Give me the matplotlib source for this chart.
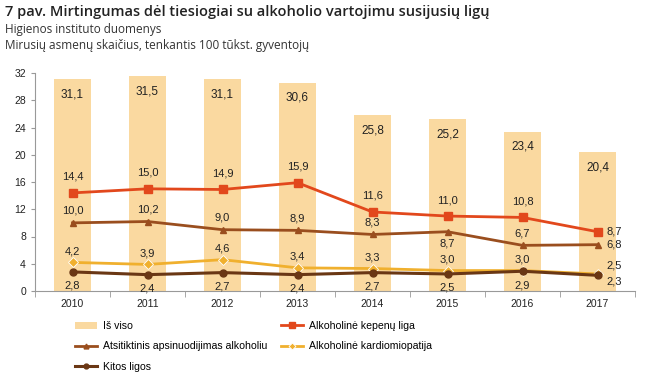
import matplotlib.pyplot as plt
import numpy as np

years = ['2010', '2011', '2012', '2013', '2014', '2015', '2016', '2017']
total = [31.1, 31.5, 31.1, 30.6, 25.8, 25.2, 23.4, 20.4]
liver = [14.4, 15.0, 14.9, 15.9, 11.6, 11.0, 10.8, 8.7]
poison = [10.0, 10.2, 9.0, 8.9, 8.3, 8.7, 6.7, 6.8]
cardio = [4.2, 3.9, 4.6, 3.4, 3.3, 3.0, 3.0, 2.5]
other = [2.8, 2.4, 2.7, 2.4, 2.7, 2.5, 2.9, 2.3]

c_bar = '#FAD9A0'
c_liver = '#E2481C'
c_poison = '#9A4E1E'
c_cardio = '#F0B02E'
c_other = '#6A3714'

def fmt(v):
    return f'{v:.1f}'.replace('.', ',')

plt.rcParams['font.family'] = ['Liberation Sans', 'DejaVu Sans']

fig = plt.figure(figsize=(6.46, 3.83), dpi=100)
ax = fig.add_axes([35 / 646, 92 / 383, 600 / 646, 218 / 383])
x = np.arange(len(years))

bars = ax.bar(x, total, width=0.5, color=c_bar, zorder=1)
for xi, v in zip(x, total):
    ax.annotate(fmt(v), (xi, v), xytext=(0, -15), textcoords='offset pixels',
                ha='center', va='center', fontsize=8.5, color='#222222')

l_liver, = ax.plot(x, liver, color=c_liver, lw=2, marker='s', ms=6, zorder=5)
l_poison, = ax.plot(x, poison, color=c_poison, lw=2, marker='^', ms=5, zorder=4)
l_cardio, = ax.plot(x, cardio, color=c_cardio, lw=2, marker='D', ms=5,
                    mec='white', mew=0.6, zorder=3)
l_other, = ax.plot(x, other, color=c_other, lw=2.2, marker='o', ms=5, zorder=4)

last = len(years) - 1

# label offsets in pixels; the last year goes to the right of the point
def labels(vals, dy, special={}):
    for i, v in enumerate(vals):
        off = special.get(i, (0, dy))
        ha = 'left' if i == last else 'center'
        ax.annotate(fmt(v), (i, v), xytext=off, textcoords='offset pixels',
                    ha=ha, va='center', fontsize=8, color='#222222')

labels(liver, 16, {last: (9, 0)})
labels(poison, 12, {5: (0, -12), last: (9, 0)})
labels(cardio, 11, {last: (9, 8)})
labels(other, -14, {last: (9, -6)})

ax.set_xlim(-0.5, 7.5)
ax.set_ylim(0, 32)
ax.set_yticks(range(0, 33, 4))
ax.set_xticks(x)
ax.set_xticklabels(years, fontsize=7.5, color='#222222')
ax.tick_params(axis='y', labelsize=7.5, length=3, color='#999999', labelcolor='#222222')
ax.tick_params(axis='x', length=0, pad=6)
ax.set_xticks(np.arange(-0.5, 8, 1), minor=True)
ax.tick_params(axis='x', which='minor', length=4, color='#999999')
for s in ['top', 'right']:
    ax.spines[s].set_visible(False)
ax.spines['left'].set_color('#999999')
ax.spines['bottom'].set_color('#999999')

fig.text(5 / 646, 1 - 12 / 383, '7 pav. Mirtingumas dėl tiesiogiai su alkoholio vartojimu susijusių ligų',
         fontsize=10.5, fontweight='semibold', family=['Open Sans', 'DejaVu Sans'],
         va='center', ha='left', color='#222222')
fig.text(5 / 646, 1 - 30 / 383, 'Higienos instituto duomenys', fontsize=8.5,
         family=['Open Sans', 'DejaVu Sans'], va='center', ha='left', color='#333333')
fig.text(5 / 646, 1 - 46 / 383, 'Mirusių asmenų skaičius, tenkantis 100 tūkst. gyventojų', fontsize=8.5,
         family=['Open Sans', 'DejaVu Sans'], va='center', ha='left', color='#333333')

handles = [bars, l_poison, l_other, l_liver, l_cardio]
names = ['Iš viso', 'Atsitiktinis apsinuodijimas alkoholiu', 'Kitos ligos',
         'Alkoholinė kepenų liga', 'Alkoholinė kardiomiopatija']
fig.legend(handles, names, ncol=2, loc='upper left', bbox_to_anchor=(75 / 646, 1 - 321 / 383),
           frameon=False, handlelength=2.08, handletextpad=0.57, borderpad=0, borderaxespad=0,
           columnspacing=1.33, labelspacing=0.99, markerscale=0.7,
           prop={'family': ['Liberation Sans'], 'size': 7.6})

fig.savefig('out.png', dpi=100)
